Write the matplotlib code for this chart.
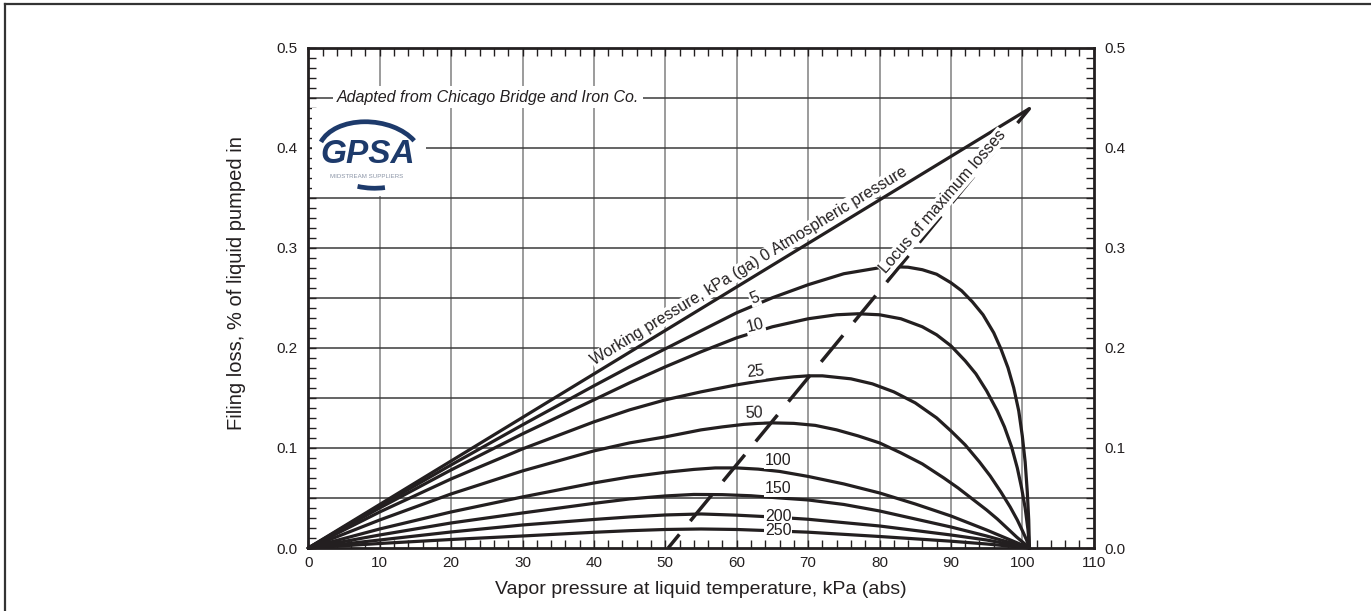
import matplotlib
matplotlib.use('Agg')
import matplotlib.pyplot as plt
from matplotlib.lines import Line2D
from matplotlib.patches import Arc
import numpy as np

plt.rcParams['font.family'] = ['Liberation Sans', 'DejaVu Sans']
plt.rcParams['lines.scale_dashes'] = False

# ---------------- data ----------------
x_ticks = [0, 10, 20, 30, 40, 50, 60, 70, 80, 90, 100, 110]
y_ticks = [0.0, 0.1, 0.2, 0.3, 0.4, 0.5]
y_tick_labels = ['0.0', '0.1', '0.2', '0.3', '0.4', '0.5']

# working pressure 0 kPa (ga) - atmospheric
vp_0 = [0, 101.0]
loss_0 = [0, 0.439]

vp_5 = [0, 10, 20, 30, 40, 45, 50, 55, 60, 65, 70, 75, 80, 82, 84, 86, 88,
        90, 91.5, 93, 94.5, 96, 97, 98, 98.8, 99.5, 100.0, 100.4, 100.7,
        100.9, 101.0]
loss_5 = [0, 0.042, 0.083, 0.123, 0.162, 0.181, 0.199, 0.217, 0.235, 0.250,
          0.263, 0.274, 0.280, 0.281, 0.2805, 0.278, 0.2735, 0.265, 0.257,
          0.246, 0.233, 0.215, 0.199, 0.180, 0.160, 0.137, 0.112, 0.086,
          0.056, 0.028, 0]

vp_10 = [0, 10, 20, 30, 40, 45, 50, 55, 60, 65, 70, 74, 77, 80, 83, 86, 88,
         90, 92, 93.5, 95, 96.5, 97.5, 98.5, 99.3, 99.9, 100.4, 100.8, 101.0]
loss_10 = [0, 0.040, 0.078, 0.114, 0.148, 0.165, 0.181, 0.196, 0.210, 0.221,
           0.229, 0.233, 0.234, 0.233, 0.229, 0.221, 0.213, 0.202, 0.187,
           0.174, 0.157, 0.137, 0.121, 0.101, 0.080, 0.060, 0.040, 0.018, 0]

vp_25 = [0, 10, 20, 30, 40, 45, 50, 55, 60, 63, 66, 68, 70, 72, 74, 76, 79,
         82, 85, 88, 90, 92, 94, 95.5, 97, 98.3, 99.3, 100.1, 100.6, 101.0]
loss_25 = [0, 0.036, 0.069, 0.099, 0.126, 0.138, 0.148, 0.156, 0.163, 0.1665,
           0.1695, 0.171, 0.172, 0.172, 0.1705, 0.169, 0.164, 0.156, 0.145,
           0.130, 0.117, 0.103, 0.086, 0.072, 0.056, 0.041, 0.028, 0.016,
           0.008, 0]

vp_50 = [0, 10, 20, 30, 40, 45, 50, 55, 58, 61, 63, 65, 68, 71, 74, 77, 80,
         83, 86, 89, 91, 93, 95, 96.5, 98, 99.2, 100.2, 101.0]
loss_50 = [0, 0.028, 0.054, 0.077, 0.097, 0.105, 0.111, 0.118, 0.121, 0.1235,
           0.1245, 0.125, 0.1245, 0.1225, 0.118, 0.112, 0.105, 0.095, 0.084,
           0.070, 0.060, 0.049, 0.038, 0.029, 0.019, 0.011, 0.005, 0]

vp_100 = [0, 10, 20, 30, 40, 45, 50, 54, 57, 60, 63, 66, 70, 75, 80, 85, 90,
          95, 98, 100, 101.0]
loss_100 = [0, 0.019, 0.036, 0.051, 0.065, 0.071, 0.0756, 0.0785, 0.080,
            0.080, 0.0788, 0.0765, 0.0715, 0.064, 0.055, 0.044, 0.032, 0.018,
            0.009, 0.003, 0]

vp_150 = [0, 10, 20, 30, 40, 45, 50, 54, 58, 62, 66, 70, 75, 80, 85, 90, 95,
          98, 101.0]
loss_150 = [0, 0.013, 0.025, 0.035, 0.0446, 0.049, 0.052, 0.0535, 0.0533,
            0.0522, 0.050, 0.048, 0.0435, 0.037, 0.029, 0.021, 0.012, 0.006, 0]

vp_200 = [0, 10, 20, 30, 40, 45, 50, 55, 60, 65, 70, 80, 90, 95, 101.0]
loss_200 = [0, 0.008, 0.016, 0.023, 0.0285, 0.031, 0.033, 0.034, 0.0328,
            0.031, 0.0287, 0.022, 0.013, 0.008, 0]

vp_250 = [0, 10, 20, 30, 40, 45, 50, 55, 60, 65, 70, 80, 90, 95, 101.0]
loss_250 = [0, 0.0045, 0.0085, 0.012, 0.0157, 0.0173, 0.0185, 0.019, 0.0185,
            0.0172, 0.0158, 0.0115, 0.0068, 0.004, 0]

# locus of maximum losses
locus_vp = [50.4, 101.0]
locus_loss = [0.0, 0.439]

curve_labels = ['5', '10', '25', '50', '100', '150', '200', '250']

# ---------------- figure ----------------
INK = '#231f20'
W, H = 1371, 611
fig = plt.figure(figsize=(13.71, 6.11), dpi=100)
ax = fig.add_axes([308.3 / W, 1 - 548 / H, (1093.7 - 308.3) / W, (548 - 47.5) / H])
ax.set_xlim(0, 110)
ax.set_ylim(0, 0.5)

# grid
for gx in range(10, 110, 10):
    ax.axvline(gx, color='#8a8a8a', lw=1.2, zorder=1)
for gy in np.arange(0.05, 0.5, 0.05):
    ax.axhline(gy, color='#3a3a3a', lw=1.1, zorder=1)

# ticks
ax.set_xticks(x_ticks)
ax.set_xticklabels([str(t) for t in x_ticks])
ax.set_yticks(y_ticks)
ax.set_yticklabels(y_tick_labels)
ax.set_xticks(np.arange(0, 111, 2), minor=True)
ax.set_yticks(np.arange(0, 0.501, 0.01), minor=True)
ax.tick_params(which='both', direction='in', top=True, right=True,
               labelright=True, length=6, width=1.0, color=INK,
               labelsize=11, labelcolor=INK)
ax.tick_params(axis='x', which='major', pad=6)
ax.tick_params(axis='y', which='major', pad=8)
for s in ax.spines.values():
    s.set_linewidth(2.0)
    s.set_color(INK)

# curves
curves = [(vp_0, loss_0), (vp_5, loss_5), (vp_10, loss_10), (vp_25, loss_25),
          (vp_50, loss_50), (vp_100, loss_100), (vp_150, loss_150),
          (vp_200, loss_200), (vp_250, loss_250)]
for xs, ys in curves:
    ax.plot(xs, ys, color=INK, lw=2.3, solid_capstyle='round',
            solid_joinstyle='round', zorder=3, clip_on=False)

ax.plot(locus_vp, locus_loss, color=INK, lw=2.5,
        linestyle=(12, (24.7, 12.4)), zorder=3, dash_capstyle='butt')

# curve labels
bb = dict(facecolor='white', edgecolor='none', pad=0.6)
label_pos = [(62.5, 0.2494, 22), (62.6, 0.2218, 14), (62.6, 0.176, 6),
             (62.4, 0.1346, 2), (65.8, 0.0872, 0), (65.8, 0.0596, 0),
             (65.8, 0.0313, 0), (65.8, 0.0173, 0)]
for txt, (lx, ly, rot) in zip(curve_labels, label_pos):
    ax.text(lx, ly, txt, fontsize=11.5, color=INK, ha='center', va='center',
            rotation=rot, rotation_mode='anchor', bbox=bb, zorder=4)

# slanted labels
fig.canvas.draw()
p1 = ax.transData.transform((vp_0[0], loss_0[0]))
p2 = ax.transData.transform((vp_0[1], loss_0[1]))
ang0 = np.degrees(np.arctan2(p2[1] - p1[1], p2[0] - p1[0]))
ax.text(61.7, 0.2817, 'Working pressure, kPa (ga) 0 Atmospheric pressure',
        fontsize=11.5, color=INK, rotation=ang0, rotation_mode='anchor',
        ha='center', va='center', bbox=dict(facecolor='white', edgecolor='none', pad=0.5),
        zorder=4)
q1 = ax.transData.transform((locus_vp[0], locus_loss[0]))
q2 = ax.transData.transform((locus_vp[1], locus_loss[1]))
ang1 = np.degrees(np.arctan2(q2[1] - q1[1], q2[0] - q1[0]))
ax.text(88.9, 0.346, 'Locus of maximum losses', fontsize=11.5, color=INK,
        rotation=ang1 - 1.5, rotation_mode='anchor', ha='center', va='center',
        bbox=dict(facecolor='white', edgecolor='none', pad=0.5), zorder=4)

ax.text(4.0, 0.4505, 'Adapted from Chicago Bridge and Iron Co.', fontsize=11.5,
        style='italic', color=INK, ha='left', va='center',
        bbox=dict(facecolor='white', edgecolor='none', pad=2.5), zorder=4)

ax.set_xlabel('Vapor pressure at liquid temperature, kPa (abs)', fontsize=14,
              color=INK, labelpad=8)
fig.text(237 / W, 1 - 283.5 / H, 'Filing loss, % of liquid pumped in',
         fontsize=14.5, color=INK, rotation=90, ha='center', va='center')

# logo
lax = fig.add_axes([312 / W, 1 - 196 / H, 114 / W, 88 / H])
lax.set_xlim(0, 114)
lax.set_ylim(0, 88)
lax.set_facecolor('white')
lax.set_xticks([])
lax.set_yticks([])
for s in lax.spines.values():
    s.set_visible(False)
NAVY = '#1d3a6b'
lax.add_patch(Arc((58, 40), 104, 68, angle=-6, theta1=25, theta2=170,
                  color=NAVY, lw=3.4))
lax.add_patch(Arc((58, 42), 104, 68, angle=-6, theta1=255, theta2=300,
                  color=NAVY, lw=3.4))
lax.text(56, 33, 'GPSA', fontsize=24, fontweight='bold', style='italic',
         color=NAVY, ha='center', va='baseline')
lax.text(55, 19.5, 'MIDSTREAM SUPPLIERS', fontsize=4.4, color='#8a94a6',
         ha='center', va='center')

# outer frame (top and left)
fig.add_artist(Line2D([0.0036, 0.0036], [0, 0.993], transform=fig.transFigure,
                      color='#333333', lw=1.6))
fig.add_artist(Line2D([0.0036, 1.0], [0.993, 0.993], transform=fig.transFigure,
                      color='#333333', lw=1.6))

fig.savefig('out.png', dpi=100, facecolor='white')
